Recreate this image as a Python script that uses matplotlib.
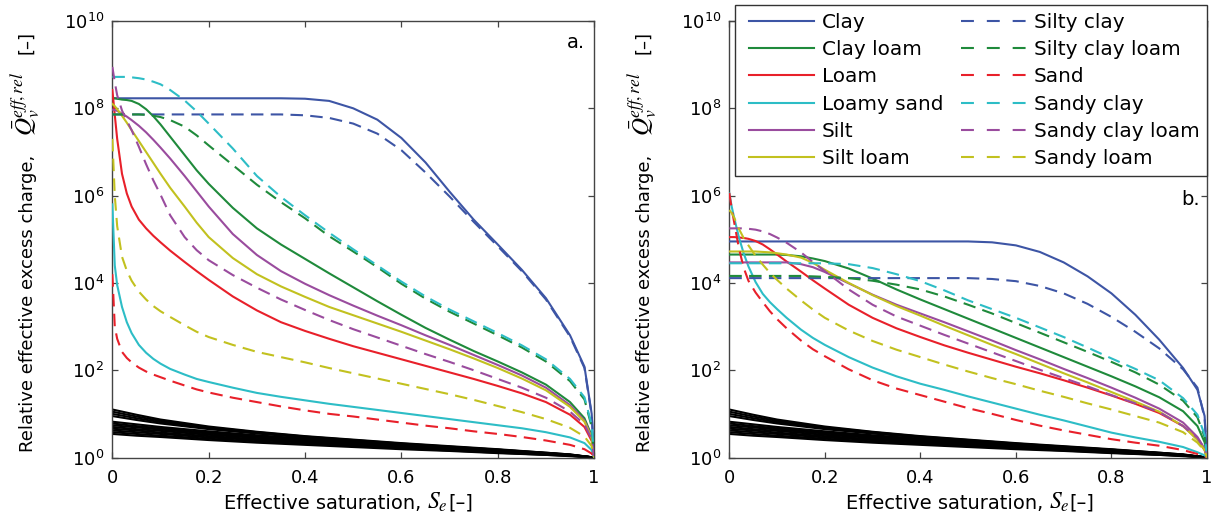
import matplotlib
matplotlib.use("Agg")
import matplotlib.pyplot as plt
from matplotlib.lines import Line2D
from matplotlib.legend_handler import HandlerBase
from matplotlib.offsetbox import TextArea, HPacker, AnchoredOffsetbox
from matplotlib.ticker import FixedLocator, FuncFormatter, NullLocator
import numpy as np

plt.rcParams['font.family'] = ['DejaVu Sans']
plt.rcParams['mathtext.fontset'] = 'stix'

# ---------------- data: log10 of relative effective excess charge ----------------
SE = [0, .005, .01, .02, .03, .04, .055, .07, .085, .1, .12, .15, .175, .2, .25, .3,
      .35, .4, .45, .5, .55, .6, .65, .7, .75, .8, .85, .9, .95, .98, .995, 1.0]

NAMES = ["Clay", "Clay loam", "Loam", "Loamy sand", "Silt", "Silt loam",
         "Silty clay", "Silty clay loam", "Sand", "Sandy clay", "Sandy clay loam", "Sandy loam"]

# ----- panel a -----
A_CLAY = [8.23] * 15 + [8.23, 8.23, 8.22, 8.17, 8.0] + [7.74, 7.32, 6.76, 6.09, 5.45] + \
         [4.88, 4.3, 3.65, 2.8, 2.08] + [1.0, 0.0]
A_CLAY_LOAM = [8.23, 8.23, 8.22, 8.2, 8.19, 8.17, 8.1, 7.98, 7.82, 7.63, 7.35, 6.93, 6.58, 6.27, 5.72,
               5.25, 4.88, 4.55, 4.22, 3.9, 3.58, 3.27, 2.97, 2.7, 2.44, 2.2, 1.95, 1.67, 1.27, 0.9, 0.5, 0.0]
A_LOAM = [8.42, 7.85, 7.3, 6.5, 6.05, 5.75, 5.45, 5.25, 5.08, 4.93, 4.74, 4.48, 4.27, 4.07, 3.69,
          3.37, 3.1, 2.9, 2.72, 2.55, 2.4, 2.25, 2.1, 1.95, 1.8, 1.64, 1.47, 1.27, 0.98, 0.7, 0.38, 0.0]
A_LOAMY_SAND = [5.8, 4.4, 3.95, 3.45, 3.1, 2.85, 2.58, 2.4, 2.26, 2.15, 2.03, 1.9, 1.8, 1.73, 1.6,
                1.48, 1.39, 1.31, 1.23, 1.16, 1.09, 1.02, 0.95, 0.88, 0.81, 0.74, 0.67, 0.58, 0.46, 0.33, 0.17, 0.0]
A_SILT = [7.97, 7.96, 7.94, 7.88, 7.81, 7.73, 7.6, 7.45, 7.28, 7.1, 6.85, 6.45, 6.1, 5.75, 5.12,
          4.64, 4.27, 3.98, 3.72, 3.48, 3.25, 3.03, 2.8, 2.58, 2.35, 2.12, 1.88, 1.6, 1.2, 0.85, 0.47, 0.0]
A_SILT_LOAM = [8.1, 8.05, 7.98, 7.83, 7.67, 7.5, 7.25, 7.0, 6.75, 6.5, 6.18, 5.75, 5.38, 5.05, 4.57,
               4.2, 3.92, 3.68, 3.45, 3.26, 3.07, 2.88, 2.68, 2.48, 2.27, 2.05, 1.81, 1.54, 1.16, 0.82, 0.45, 0.0]
A_SILTY_CLAY = [7.86] * 15 + [7.86, 7.86, 7.84, 7.78, 7.65] + [7.42, 7.04, 6.53, 5.98, 5.4] + \
               [4.84, 4.27, 3.62, 2.77, 2.05] + [0.97, 0.0]
A_SILTY_CLAY_LOAM = [7.86, 7.86, 7.86, 7.86, 7.86, 7.86, 7.86, 7.85, 7.83, 7.8, 7.73, 7.58, 7.38, 7.15, 6.7,
                     6.25, 5.85, 5.48, 5.07, 4.72, 4.36, 3.98, 3.64, 3.34, 3.07, 2.8, 2.52, 2.2, 1.75, 1.33, 0.7, 0.0]
A_SAND = [4.2, 3.0, 2.72, 2.42, 2.28, 2.18, 2.06, 1.97, 1.9, 1.84, 1.76, 1.65, 1.56, 1.49, 1.37,
          1.27, 1.17, 1.08, 1.0, 0.94, 0.87, 0.8, 0.73, 0.67, 0.6, 0.54, 0.47, 0.39, 0.29, 0.19, 0.09, 0.0]
A_SANDY_CLAY = [8.72, 8.72, 8.72, 8.72, 8.72, 8.71, 8.69, 8.66, 8.61, 8.55, 8.42, 8.18, 7.93, 7.65, 7.08,
                6.45, 5.97, 5.55, 5.15, 4.77, 4.4, 4.03, 3.69, 3.39, 3.12, 2.85, 2.57, 2.25, 1.8, 1.38, 0.75, 0.0]
A_SANDY_CLAY_LOAM = [8.95, 8.6, 8.3, 7.95, 7.72, 7.5, 7.12, 6.72, 6.35, 6.02, 5.55, 5.05, 4.75, 4.52, 4.18,
                     3.89, 3.62, 3.38, 3.15, 2.94, 2.75, 2.56, 2.37, 2.19, 2.0, 1.8, 1.6, 1.37, 1.05, 0.76, 0.42, 0.0]
A_SANDY_LOAM = [7.3, 6.0, 5.3, 4.6, 4.28, 4.05, 3.8, 3.62, 3.47, 3.35, 3.22, 3.03, 2.88, 2.76, 2.58,
                2.42, 2.3, 2.18, 2.05, 1.93, 1.81, 1.69, 1.57, 1.45, 1.32, 1.18, 1.04, 0.88, 0.68, 0.48, 0.26, 0.0]

# ----- panel b -----
B_CLAY = [4.95] * 20 + [4.93, 4.86, 4.71, 4.47, 4.15] + [3.76, 3.27, 2.7, 2.05, 1.55] + [0.95, 0.0]
B_CLAY_LOAM = [4.65] * 10 + [4.64, 4.61, 4.56, 4.5, 4.33] + [4.1, 3.85, 3.62, 3.4, 3.18] + \
              [2.96, 2.74, 2.52, 2.3, 2.08] + [1.86, 1.63, 1.38, 1.06, 0.72] + [0.35, 0.0]
B_LOAM = [5.05, 5.05, 5.05, 5.04, 5.03, 5.01, 4.96, 4.88, 4.77, 4.65, 4.49, 4.26, 4.06, 3.87, 3.5,
          3.2, 2.96, 2.76, 2.57, 2.4, 2.24, 2.08, 1.93, 1.77, 1.6, 1.42, 1.23, 1.02, 0.72, 0.42, 0.17, 0.0]
B_LOAMY_SAND = [6.05, 5.75, 5.5, 5.05, 4.68, 4.38, 4.02, 3.75, 3.56, 3.4, 3.2, 2.93, 2.74, 2.58, 2.3,
                2.06, 1.86, 1.69, 1.55, 1.4, 1.26, 1.12, 0.98, 0.85, 0.71, 0.57, 0.46, 0.36, 0.24, 0.12, 0.05, 0.0]
B_SILT = [4.47] * 10 + [4.47, 4.43, 4.36, 4.25, 3.99] + [3.73, 3.5, 3.3, 3.1, 2.89] + \
         [2.68, 2.46, 2.25, 2.03, 1.82] + [1.6, 1.37, 1.12, 0.8, 0.47] + [0.2, 0.0]
B_SILT_LOAM = [4.72, 4.72, 4.72, 4.72, 4.72, 4.72, 4.72, 4.71, 4.7, 4.68, 4.65, 4.58, 4.46, 4.3, 4.0,
               3.72, 3.47, 3.25, 3.02, 2.8, 2.58, 2.37, 2.15, 1.93, 1.72, 1.5, 1.28, 1.05, 0.72, 0.4, 0.17, 0.0]
B_SILTY_CLAY = [4.11] * 20 + [4.09, 4.04, 3.93, 3.76, 3.52] + [3.22, 2.88, 2.5, 2.02, 1.6] + [0.9, 0.0]
B_SILTY_CLAY_LOAM = [4.16] * 10 + [4.16, 4.16, 4.15, 4.14, 4.11] + [4.05, 3.96, 3.85, 3.69, 3.5] + \
                    [3.3, 3.08, 2.86, 2.64, 2.42] + [2.19, 1.95, 1.67, 1.3, 0.92] + [0.47, 0.0]
B_SAND = [6.06, 5.7, 5.4, 4.8, 4.35, 4.05, 3.78, 3.56, 3.35, 3.17, 2.96, 2.68, 2.48, 2.32, 2.02,
          1.77, 1.58, 1.43, 1.28, 1.13, 1.0, 0.86, 0.73, 0.62, 0.52, 0.42, 0.34, 0.27, 0.17, 0.08, 0.03, 0.0]
B_SANDY_CLAY = [4.45] * 10 + [4.45, 4.45, 4.45, 4.45, 4.43] + [4.34, 4.2, 4.04, 3.83, 3.6] + \
               [3.4, 3.2, 2.98, 2.76, 2.52] + [2.27, 2.03, 1.77, 1.36, 0.98] + [0.52, 0.0]
B_SANDY_CLAY_LOAM = [5.25, 5.25, 5.25, 5.25, 5.25, 5.24, 5.22, 5.18, 5.12, 5.04, 4.92, 4.7, 4.48, 4.27, 3.85,
                     3.5, 3.23, 3.02, 2.81, 2.61, 2.41, 2.21, 2.01, 1.82, 1.63, 1.43, 1.24, 1.04, 0.72, 0.45, 0.2, 0.0]
B_SANDY_LOAM = [5.67, 5.6, 5.5, 5.24, 5.03, 4.86, 4.62, 4.42, 4.23, 4.07, 3.87, 3.6, 3.39, 3.2, 2.91,
                2.67, 2.47, 2.3, 2.13, 1.97, 1.82, 1.68, 1.53, 1.39, 1.24, 1.1, 0.95, 0.8, 0.58, 0.34, 0.15, 0.0]

# ----- black bundle (same in both panels) -----
SE_B = [0, .05, .1, .2, .3, .4, .5, .6, .7, .8, .9, .95, 1.0]
BLACK = [
    [1.10, 0.98, 0.87, 0.71, 0.59, 0.49, 0.41, 0.33, 0.26, 0.19, 0.11, 0.07, 0],
    [1.05, 0.94, 0.84, 0.69, 0.58, 0.48, 0.40, 0.32, 0.25, 0.18, 0.11, 0.07, 0],
    [1.00, 0.90, 0.81, 0.67, 0.56, 0.47, 0.39, 0.31, 0.24, 0.18, 0.10, 0.06, 0],
    [0.95, 0.86, 0.78, 0.65, 0.55, 0.46, 0.38, 0.31, 0.24, 0.17, 0.10, 0.06, 0],
    [0.82, 0.76, 0.70, 0.60, 0.51, 0.43, 0.36, 0.29, 0.23, 0.16, 0.10, 0.06, 0],
    [0.78, 0.72, 0.67, 0.57, 0.49, 0.41, 0.34, 0.28, 0.22, 0.16, 0.09, 0.06, 0],
    [0.74, 0.69, 0.64, 0.55, 0.47, 0.40, 0.33, 0.27, 0.21, 0.15, 0.09, 0.05, 0],
    [0.70, 0.65, 0.61, 0.52, 0.45, 0.38, 0.31, 0.26, 0.20, 0.14, 0.08, 0.05, 0],
    [0.66, 0.62, 0.57, 0.49, 0.42, 0.36, 0.30, 0.24, 0.19, 0.13, 0.08, 0.05, 0],
    [0.62, 0.58, 0.54, 0.46, 0.40, 0.34, 0.28, 0.23, 0.18, 0.12, 0.07, 0.04, 0],
    [0.58, 0.54, 0.50, 0.43, 0.37, 0.31, 0.26, 0.21, 0.16, 0.11, 0.06, 0.04, 0],
    [0.54, 0.50, 0.47, 0.40, 0.34, 0.29, 0.24, 0.19, 0.15, 0.10, 0.06, 0.03, 0],
]

YTICK_EXP = [0, 2, 4, 6, 8, 10]
XTICKS = [0, 0.2, 0.4, 0.6, 0.8, 1.0]
XTICK_LABELS = ["0", "0.2", "0.4", "0.6", "0.8", "1"]

COLORS = ['#3d55a5', '#1f8a3b', '#e8202a', '#2dbdc6', '#9a4c9e', '#c2c11f']

PANEL_A = [A_CLAY, A_CLAY_LOAM, A_LOAM, A_LOAMY_SAND, A_SILT, A_SILT_LOAM,
           A_SILTY_CLAY, A_SILTY_CLAY_LOAM, A_SAND, A_SANDY_CLAY, A_SANDY_CLAY_LOAM, A_SANDY_LOAM]
PANEL_B = [B_CLAY, B_CLAY_LOAM, B_LOAM, B_LOAMY_SAND, B_SILT, B_SILT_LOAM,
           B_SILTY_CLAY, B_SILTY_CLAY_LOAM, B_SAND, B_SANDY_CLAY, B_SANDY_CLAY_LOAM, B_SANDY_LOAM]

LW = 1.5
DASH_PLOT = (6, 3.5)
DASH_LEG = (6.2, 6.2)
FRAME = '#444444'

fig = plt.figure(figsize=(12.28, 5.31), dpi=100)
ax_a = fig.add_axes([0.0915, 0.1384, 0.3923, 0.822])
ax_b = fig.add_axes([0.5939, 0.1384, 0.3890, 0.822])


def ylabel_pieces(ax, xb):
    kw = dict(transform=ax.transAxes, rotation=90, rotation_mode='anchor',
              ha='left', va='baseline', clip_on=False)
    ax.text(xb, 0.0126, 'Relative effective excess charge,', fontsize=13, **kw)
    ax.text(xb, 0.7365, r'$\bar{Q}_v^{eff,rel}$', fontsize=18, **kw)
    ax.text(xb - 0.004, 0.924, '[–]', fontsize=13, **kw)


def xlabel_box(ax, xc):
    parts = [TextArea('Effective saturation, ', textprops=dict(fontsize=14)),
             TextArea(r'$S_e$', textprops=dict(fontsize=17)),
             TextArea('[–]', textprops=dict(fontsize=14))]
    box = HPacker(children=parts, align='baseline', pad=0, sep=0)
    anch = AnchoredOffsetbox(loc='center', child=box, pad=0, borderpad=0,
                             frameon=False, bbox_to_anchor=(xc, -0.102),
                             bbox_transform=ax.transAxes)
    ax.add_artist(anch)


def draw(ax, curves, tag, tag_xy, ylab_x, xlab_c):
    for blk in BLACK:
        ax.plot(SE_B, 10 ** np.array(blk), color='k', lw=1.5, zorder=2)
    for i, vals in enumerate(curves):
        color = COLORS[i % 6]
        if i < 6:
            ax.plot(SE, 10 ** np.array(vals), color=color, lw=LW, zorder=3)
        else:
            ax.plot(SE, 10 ** np.array(vals), color=color, lw=LW, zorder=3,
                    linestyle=(0, DASH_PLOT))
    ax.set_yscale('log')
    ax.set_xlim(0, 1)
    ax.set_ylim(1, 1e10)
    ax.yaxis.set_major_locator(FixedLocator([10.0 ** e for e in YTICK_EXP]))
    ax.yaxis.set_minor_locator(NullLocator())
    ax.yaxis.set_major_formatter(FuncFormatter(
        lambda v, p: r'$\mathdefault{10^{%d}}$' % int(round(np.log10(v)))))
    ax.set_xticks(XTICKS)
    ax.set_xticklabels(XTICK_LABELS)
    ax.tick_params(direction='in', top=True, right=True, length=4.5, width=0.9,
                   color=FRAME, labelsize=13)
    ax.tick_params(axis='x', pad=8)
    ax.tick_params(axis='y', pad=6)
    for s in ax.spines.values():
        s.set_color(FRAME)
        s.set_linewidth(1.0)
    xlabel_box(ax, xlab_c)
    ylabel_pieces(ax, ylab_x)
    ax.text(tag_xy[0], tag_xy[1], tag, transform=ax.transAxes, ha='right',
            va='baseline', fontsize=14)


draw(ax_a, PANEL_A, 'a.', (0.981, 0.938), -0.1646, 0.49)
draw(ax_b, PANEL_B, 'b.', (0.985, 0.578), -0.166, 0.504)


class OffsetLineHandler(HandlerBase):
    def __init__(self, frac):
        super().__init__()
        self.frac = frac

    def create_artists(self, legend, orig_handle, xdescent, ydescent, width,
                       height, fontsize, trans):
        y = height / 2.0 - ydescent
        line = Line2D([-xdescent + width * self.frac, -xdescent + width], [y, y])
        line.update_from(orig_handle)
        line.set_transform(trans)
        return [line]


handles = []
for i, name in enumerate(NAMES):
    color = COLORS[i % 6]
    if i < 6:
        h = Line2D([], [], color=color, lw=LW)
    else:
        h = Line2D([], [], color=color, lw=LW, linestyle=(0, DASH_LEG))
    handles.append(h)

hmap = {h: OffsetLineHandler(0.085) for h in handles}
leg = ax_b.legend(handles, NAMES, ncol=2, loc='upper left', handler_map=hmap,
                  bbox_to_anchor=(0.012, 1.0367), borderaxespad=0.0,
                  fontsize=14.4, handlelength=3.55, handletextpad=0.4,
                  columnspacing=0.55, labelspacing=0.41, borderpad=0.4,
                  fancybox=False, framealpha=1.0, edgecolor='#333333')
leg.get_frame().set_linewidth(1.0)
leg.set_zorder(10)

fig.savefig('out.png', dpi=100)
